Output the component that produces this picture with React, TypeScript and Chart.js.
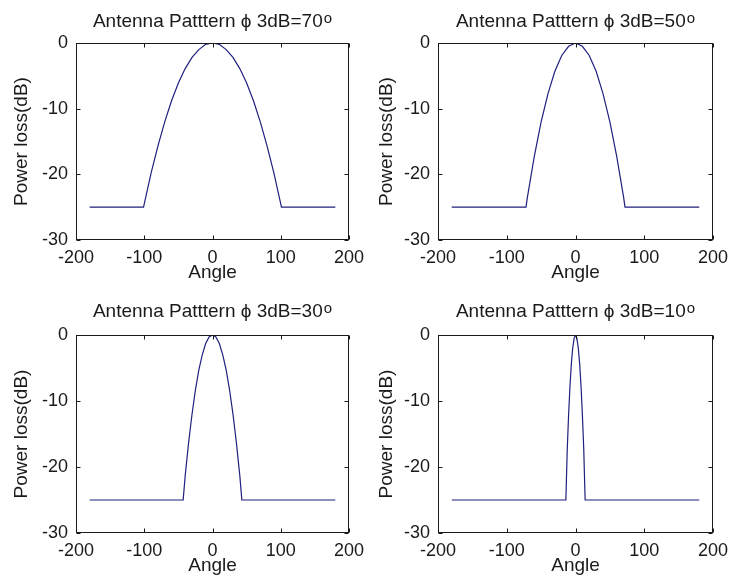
import React, { useEffect, useRef } from "react";
import { Chart, registerables } from "chart.js";

Chart.register(...registerables);

// ---- data ----
const xTicks = [-200, -100, 0, 100, 200];
const yTicks = [-30, -20, -10, 0];

const titleMain = [
  "Antenna Patttern \u03D5 3dB=70",
  "Antenna Patttern \u03D5 3dB=50",
  "Antenna Patttern \u03D5 3dB=30",
  "Antenna Patttern \u03D5 3dB=10",
];
const titleSup = "o";

const angles70 = [-180, -101, -100, -90, -80, -70, -60, -50, -40, -30, -20, -10, 0, 10, 20, 30, 40, 50, 60, 70, 80, 90, 100, 101, 180];
const loss70 = [-25, -25, -24.5, -19.8, -15.7, -12, -8.8, -6.1, -3.9, -2.2, -1.0, -0.2, 0, -0.2, -1.0, -2.2, -3.9, -6.1, -8.8, -12, -15.7, -19.8, -24.5, -25, -25];

const angles50 = [-180, -72, -70, -60, -50, -40, -30, -20, -10, 0, 10, 20, 30, 40, 50, 60, 70, 72, 180];
const loss50 = [-25, -25, -23.5, -17.3, -12, -7.7, -4.3, -1.9, -0.5, 0, -0.5, -1.9, -4.3, -7.7, -12, -17.3, -23.5, -25, -25];

const angles30 = [-180, -43, -40, -35, -30, -25, -20, -15, -10, -5, 0, 5, 10, 15, 20, 25, 30, 35, 40, 43, 180];
const loss30 = [-25, -25, -21.3, -16.3, -12, -8.3, -5.3, -3, -1.3, -0.3, 0, -0.3, -1.3, -3, -5.3, -8.3, -12, -16.3, -21.3, -25, -25];

const angles10 = [-180, -14, -12, -10, -8, -6, -4, -2, 0, 2, 4, 6, 8, 10, 12, 14, 180];
const loss10 = [-25, -25, -17.3, -12, -7.7, -4.3, -1.9, -0.5, 0, -0.5, -1.9, -4.3, -7.7, -12, -17.3, -25, -25];

// ---- styling ----
const FONT = "'Liberation Sans', Arial, Helvetica, sans-serif";
const TEXT = "#1a1a1a";
const LINE = "#20207f";
const AXIS = "#1a1a1a";

type PanelProps = {
  left: number;
  top: number;
  width: number;
  height: number;
  areaLeft: number;
  areaTop: number;
  areaRight: number;
  areaBottom: number;
  title: string;
  angles: number[];
  loss: number[];
};

const boxPlugin = {
  id: "matlabBox",
  afterDraw(chart: any) {
    const { ctx, chartArea, scales } = chart;
    const L = Math.round(chartArea.left) + 0.5;
    const R = Math.round(chartArea.right) - 0.5;
    const T = Math.round(chartArea.top) + 0.5;
    const B = Math.round(chartArea.bottom) - 0.5;
    const tl = 4;
    ctx.save();
    ctx.strokeStyle = AXIS;
    ctx.lineWidth = 1;
    ctx.strokeRect(L, T, R - L, B - T);
    ctx.beginPath();
    for (const v of xTicks) {
      const px = Math.round(scales.x.getPixelForValue(v)) + 0.5;
      ctx.moveTo(px, B);
      ctx.lineTo(px, B - tl);
      ctx.moveTo(px, T);
      ctx.lineTo(px, T + tl);
    }
    for (const v of yTicks) {
      const py = Math.round(scales.y.getPixelForValue(v)) + 0.5;
      ctx.moveTo(L, py);
      ctx.lineTo(L + tl, py);
      ctx.moveTo(R, py);
      ctx.lineTo(R - tl, py);
    }
    ctx.stroke();

    // title with superscript
    const opts = chart.options.plugins.supTitle;
    if (opts && opts.main) {
      const mainFont = `19px ${FONT}`;
      const supFont = `15px ${FONT}`;
      ctx.font = mainFont;
      const w1 = ctx.measureText(opts.main).width;
      ctx.font = supFont;
      const w2 = ctx.measureText(opts.sup).width;
      const cx = (chartArea.left + chartArea.right) / 2;
      const x0 = cx - (w1 + w2 + 1) / 2;
      const base = opts.baseline;
      ctx.fillStyle = TEXT;
      ctx.textAlign = "left";
      ctx.textBaseline = "alphabetic";
      ctx.font = mainFont;
      ctx.fillText(opts.main, x0, base);
      ctx.font = supFont;
      ctx.fillText(opts.sup, x0 + w1 + 1, base - 4);
    }
    ctx.restore();
  },
};

function Panel(p: PanelProps) {
  const ref = useRef<HTMLCanvasElement>(null);
  useEffect(() => {
    const canvas = ref.current!;
    const chart = new Chart(canvas, {
      type: "line",
      data: {
        datasets: [
          {
            data: p.angles.map((a, i) => ({ x: a, y: p.loss[i] })),
            borderColor: LINE,
            borderWidth: 1.2,
            pointRadius: 0,
            fill: false,
            tension: 0,
          },
        ],
      },
      options: {
        animation: false,
        responsive: false,
        maintainAspectRatio: false,
        layout: {
          padding: {
            left: 0,
            top: p.areaTop,
            right: p.width - p.areaRight,
            bottom: p.height - p.areaBottom - 50,
          },
        },
        plugins: {
          legend: { display: false },
          tooltip: { enabled: false },
          title: { display: false },
          supTitle: { main: p.title, sup: titleSup, baseline: 27 },
        },
        scales: {
          x: {
            type: "linear",
            min: -200,
            max: 200,
            afterBuildTicks: (s: any) => {
              s.ticks = xTicks.map((v) => ({ value: v }));
            },
            afterFit: (s: any) => {
              s.height = 50;
              s.paddingLeft = 0;
              s.paddingRight = 0;
            },
            grid: { display: false, drawTicks: false },
            border: { display: false },
            ticks: {
              color: TEXT,
              font: { family: FONT, size: 18 },
              padding: 7,
              maxRotation: 0,
              autoSkip: false,
            },
            title: {
              display: true,
              text: "Angle",
              color: TEXT,
              font: { family: FONT, size: 19, lineHeight: 1.2 },
              padding: { top: 0, bottom: 6 },
            },
          },
          y: {
            type: "linear",
            min: -30,
            max: 0,
            afterBuildTicks: (s: any) => {
              s.ticks = yTicks.map((v) => ({ value: v }));
            },
            afterFit: (s: any) => {
              s.width = p.areaLeft;
              s.paddingTop = 0;
              s.paddingBottom = 0;
            },
            grid: { display: false, drawTicks: false },
            border: { display: false },
            ticks: {
              color: TEXT,
              font: { family: FONT, size: 18 },
              padding: 8,
              autoSkip: false,
            },
            title: {
              display: true,
              text: "Power loss(dB)",
              color: TEXT,
              font: { family: FONT, size: 19, lineHeight: 1.2 },
              padding: { top: 10, bottom: 0 },
            },
          },
        },
      },
      plugins: [boxPlugin],
    } as any);
    return () => chart.destroy();
  }, []);
  return (
    <canvas
      ref={ref}
      width={p.width}
      height={p.height}
      style={{
        position: "absolute",
        left: p.left,
        top: p.top,
        width: p.width,
        height: p.height,
      }}
    />
  );
}

export default function App() {
  return (
    <div
      style={{
        position: "absolute",
        left: 0,
        top: 0,
        width: 730,
        height: 585,
        background: "#ffffff",
        overflow: "hidden",
      }}
    >
      <Panel left={0} top={0} width={365} height={290} areaLeft={76} areaTop={43} areaRight={349} areaBottom={240} title={titleMain[0]} angles={angles70} loss={loss70} />
      <Panel left={365} top={0} width={365} height={290} areaLeft={73} areaTop={43} areaRight={348} areaBottom={240} title={titleMain[1]} angles={angles50} loss={loss50} />
      <Panel left={0} top={290} width={365} height={295} areaLeft={76} areaTop={45} areaRight={349} areaBottom={243} title={titleMain[2]} angles={angles30} loss={loss30} />
      <Panel left={365} top={290} width={365} height={295} areaLeft={73} areaTop={45} areaRight={348} areaBottom={243} title={titleMain[3]} angles={angles10} loss={loss10} />
    </div>
  );
}
